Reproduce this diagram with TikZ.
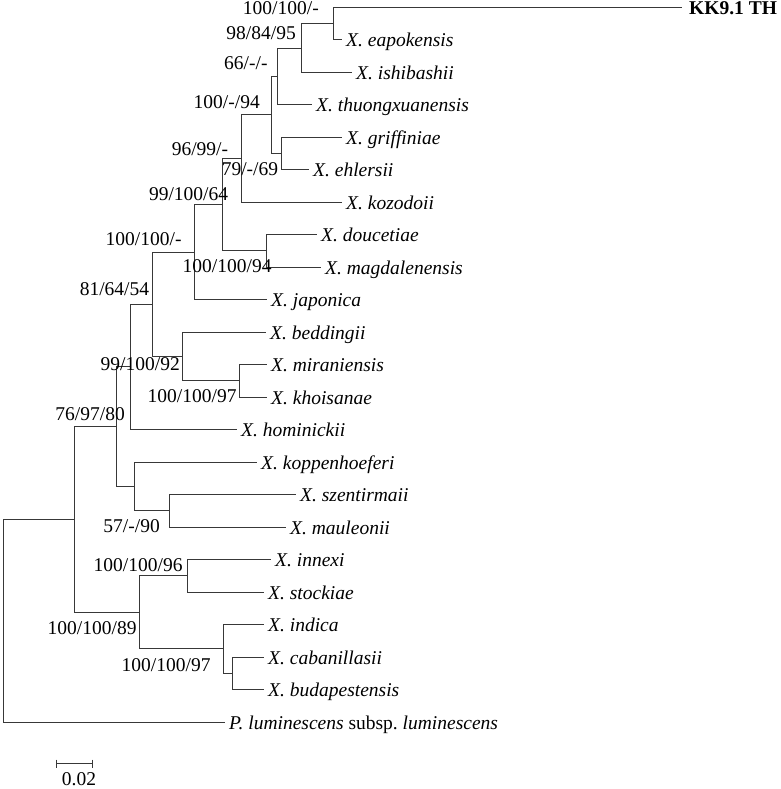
\documentclass[tikz,border=0pt]{standalone}
\usepackage{fontspec}
\setmainfont{Liberation Serif}
\begin{document}
\begin{tikzpicture}[x=1pt,y=-1pt,
  br/.style={draw=black!78,line width=1.6pt,line cap=rect},
  leaf/.style={anchor=base west,inner sep=0pt,xshift=4.5pt,yshift=-6.8pt,font=\fontsize{19.5}{23}\selectfont\itshape},
  bs/.style={anchor=base east,inner sep=0pt,font=\fontsize{19.5}{23}\selectfont}]
\useasboundingbox (0,0) rectangle (780,789);
% tips
\coordinate (tKK) at (681.5,7.5);
\coordinate (tEap) at (341.5,39.5);
\coordinate (tIsh) at (351.5,72.5);
\coordinate (tThu) at (311.5,104.5);
\coordinate (tGri) at (341.5,137.5);
\coordinate (tEhl) at (308.5,169.5);
\coordinate (tKoz) at (341.5,202.5);
\coordinate (tDou) at (316.5,234.5);
\coordinate (tMag) at (320.5,267.5);
\coordinate (tJap) at (266.5,299.5);
\coordinate (tBed) at (265.5,332.5);
\coordinate (tMir) at (266.5,364.5);
\coordinate (tKho) at (266.5,397.5);
\coordinate (tHom) at (236.5,429.5);
\coordinate (tKop) at (256.5,462.5);
\coordinate (tSze) at (295.5,494.5);
\coordinate (tMau) at (285.5,527.5);
\coordinate (tInn) at (270.5,559.5);
\coordinate (tSto) at (263.5,592.5);
\coordinate (tInd) at (263.5,624.5);
\coordinate (tCab) at (263.5,657.5);
\coordinate (tBud) at (263.5,689.5);
\coordinate (tPlu) at (224.5,722.5);
% internal nodes
\coordinate (nKK) at (333.5,23.5);
\coordinate (n98) at (301.5,48.5);
\coordinate (n66) at (277.5,76.5);
\coordinate (nGE) at (281.5,153.5);
\coordinate (n10094) at (271.5,114.5);
\coordinate (n96) at (241.5,158.5);
\coordinate (nDM) at (266.5,250.5);
\coordinate (n9964) at (222.5,204.5);
\coordinate (n100100) at (194.5,252.5);
\coordinate (nMK) at (239.5,380.5);
\coordinate (nBed) at (182.5,356.5);
\coordinate (n81) at (152.5,304.5);
\coordinate (nHom) at (130.5,366.5);
\coordinate (nSM) at (169.5,510.5);
\coordinate (nKop) at (134.5,486.5);
\coordinate (n76) at (116.5,426.5);
\coordinate (nIS) at (187.5,575.5);
\coordinate (nCB) at (232.5,673.5);
\coordinate (nInd) at (223.5,648.5);
\coordinate (n10089) at (139.5,612.5);
\coordinate (nX) at (74.5,519.5);
\coordinate (root) at (3.5,620.5);
% branches
\draw[br] (nKK) |- (tKK) (nKK) |- (tEap);
\draw[br] (n98) |- (nKK) (n98) |- (tIsh);
\draw[br] (n66) |- (n98) (n66) |- (tThu);
\draw[br] (nGE) |- (tGri) (nGE) |- (tEhl);
\draw[br] (n10094) |- (n66) (n10094) |- (nGE);
\draw[br] (n96) |- (n10094) (n96) |- (tKoz);
\draw[br] (nDM) |- (tDou) (nDM) |- (tMag);
\draw[br] (n9964) |- (n96) (n9964) |- (nDM);
\draw[br] (n100100) |- (n9964) (n100100) |- (tJap);
\draw[br] (nMK) |- (tMir) (nMK) |- (tKho);
\draw[br] (nBed) |- (tBed) (nBed) |- (nMK);
\draw[br] (n81) |- (n100100) (n81) |- (nBed);
\draw[br] (nHom) |- (n81) (nHom) |- (tHom);
\draw[br] (nSM) |- (tSze) (nSM) |- (tMau);
\draw[br] (nKop) |- (tKop) (nKop) |- (nSM);
\draw[br] (n76) |- (nHom) (n76) |- (nKop);
\draw[br] (nIS) |- (tInn) (nIS) |- (tSto);
\draw[br] (nCB) |- (tCab) (nCB) |- (tBud);
\draw[br] (nInd) |- (tInd) (nInd) |- (nCB);
\draw[br] (n10089) |- (nIS) (n10089) |- (nInd);
\draw[br] (nX) |- (n76) (nX) |- (n10089);
\draw[br] (root) |- (nX) (root) |- (tPlu);
% leaf labels
\node[leaf,font=\fontsize{19.5}{23}\selectfont\bfseries,xshift=3pt] (lKK) at (tKK) {KK9.1 TH};
\node[leaf] (lEap) at (tEap) {X. eapokensis};
\node[leaf] (lIsh) at (tIsh) {X. ishibashii};
\node[leaf] (lThu) at (tThu) {X. thuongxuanensis};
\node[leaf] (lGri) at (tGri) {X. griffiniae};
\node[leaf] (lEhl) at (tEhl) {X. ehlersii};
\node[leaf] (lKoz) at (tKoz) {X. kozodoii};
\node[leaf] (lDou) at (tDou) {X. doucetiae};
\node[leaf] (lMag) at (tMag) {X. magdalenensis};
\node[leaf] (lJap) at (tJap) {X. japonica};
\node[leaf] (lBed) at (tBed) {X. beddingii};
\node[leaf] (lMir) at (tMir) {X. miraniensis};
\node[leaf] (lKho) at (tKho) {X. khoisanae};
\node[leaf] (lHom) at (tHom) {X. hominickii};
\node[leaf] (lKop) at (tKop) {X. koppenhoeferi};
\node[leaf] (lSze) at (tSze) {X. szentirmaii};
\node[leaf] (lMau) at (tMau) {X. mauleonii};
\node[leaf] (lInn) at (tInn) {X. innexi};
\node[leaf] (lSto) at (tSto) {X. stockiae};
\node[leaf] (lInd) at (tInd) {X. indica};
\node[leaf] (lCab) at (tCab) {X. cabanillasii};
\node[leaf] (lBud) at (tBud) {X. budapestensis};
\node[leaf] (lPlu) at (tPlu) {P. luminescens \upshape subsp.\ \itshape luminescens};
% bootstrap labels
\node[bs] (bKK) at (319,15) {100/100/-};
\node[bs] (b98) at (296,40) {98/84/95};
\node[bs] (b66) at (267.7,70) {66/-/-};
\node[bs] (b10094) at (260,108.5) {100/-/94};
\node[bs] (b96) at (228.3,155) {96/99/-};
\node[bs] (bGE) at (278.3,175) {79/-/69};
\node[bs] (b9964) at (228.3,200) {99/100/64};
\node[bs] (b100100) at (181.7,245) {100/100/-};
\node[bs] (bDM) at (271.7,272.7) {100/100/94};
\node[bs] (b81) at (149.3,295) {81/64/54};
\node[bs] (bBed) at (180,370) {99/100/92};
\node[bs] (bMK) at (236.7,402.3) {100/100/97};
\node[bs] (b76) at (125,420) {76/97/80};
\node[bs] (bSM) at (160,532.7) {57/-/90};
\node[bs] (bIS) at (182.7,571.7) {100/100/96};
\node[bs] (b10089) at (136.7,634.3) {100/100/89};
\node[bs] (bInd) at (210.7,671) {100/100/97};
% scale bar
\coordinate (sA) at (56.5,763.5);
\coordinate (sB) at (92.5,763.5);
\draw[br,line cap=butt] (sA) -- (sB);
\draw[br,line cap=butt] ([yshift=4pt]sA) -- ([yshift=-4pt]sA);
\draw[br,line cap=butt] ([yshift=4pt]sB) -- ([yshift=-4pt]sB);
\node[anchor=base,inner sep=0pt,font=\fontsize{19.5}{23}\selectfont] (sL) at (79,785) {0.02};
\end{tikzpicture}
\end{document}
